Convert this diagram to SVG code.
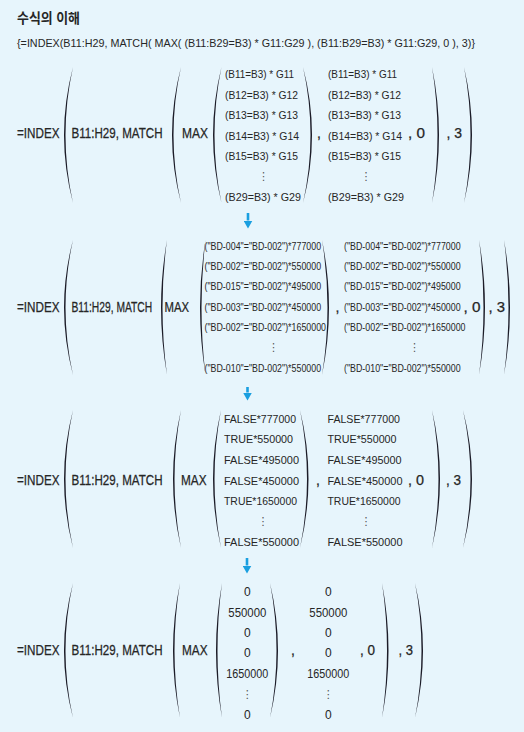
<svg xmlns="http://www.w3.org/2000/svg" width="524" height="732" viewBox="0 0 524 732">
<defs>
<style>
.bg{fill:#e7f5fc}
.t{font-family:"Liberation Sans",Arial,sans-serif;fill:#262626}
.k{font-family:"Liberation Sans","Noto Sans CJK KR",sans-serif;fill:#262626;font-weight:bold}
.L{font-size:14px;stroke:#262626;stroke-width:0.25}
.a1{font-size:11px}
.a2{font-size:10px}
.a3{font-size:11.5px}
.a4{font-size:12px}
.m{text-anchor:middle}
.d{font-family:"DejaVu Sans",sans-serif;font-size:11px;fill:#555;text-anchor:middle}
.p{fill:#1c1c28}
.ar{stroke:#1a9fe0;stroke-width:2.6;fill:none}
</style>
<marker id="ah" viewBox="0 0 8 9" refX="0" refY="4.5" markerWidth="8" markerHeight="9" markerUnits="userSpaceOnUse" orient="auto">
<path d="M0,0 L8,4.5 L0,9 Z" fill="#1a9fe0"/>
</marker>
</defs>
<rect class="bg" x="0" y="0" width="524" height="732"/>

<g id="title">
<text class="k" x="17" y="22.5" font-size="14" textLength="63" lengthAdjust="spacingAndGlyphs">수식의 이해</text>
<text class="t" x="17" y="46.5" font-size="11" textLength="458" lengthAdjust="spacingAndGlyphs">{=INDEX(B11:H29, MATCH( MAX( (B11:B29=B3) * G11:G29 ), (B11:B29=B3) * G11:G29, 0 ), 3)}</text>
</g>

<g id="step1">
<path class="p" d="M73,67 Q55,135 73,203 Q58,135 73,67 Z"/>
<path class="p" d="M181,67 Q163,135 181,203 Q166,135 181,67 Z"/>
<path class="p" d="M221.5,67 Q204.5,135 221.5,203 Q207.5,135 221.5,67 Z"/>
<path class="p" d="M303,67 Q321,135 303,203 Q318,135 303,67 Z"/>
<path class="p" d="M432,67 Q446,135 432,203 Q443,135 432,67 Z"/>
<path class="p" d="M464,67 Q480,135 464,203 Q477,135 464,67 Z"/>
<text class="t L" x="17" y="138" textLength="42.5" lengthAdjust="spacingAndGlyphs">=INDEX</text>
<text class="t L" transform="translate(71.5,138) scale(0.829,1)">B11:H29, MATCH</text>
<text class="t L" x="182" y="138" textLength="26" lengthAdjust="spacingAndGlyphs">MAX</text>
<text class="t a1" x="225" y="78" textLength="69" lengthAdjust="spacingAndGlyphs">(B11=B3) * G11</text>
<text class="t a1" x="225" y="98.5" textLength="73" lengthAdjust="spacingAndGlyphs">(B12=B3) * G12</text>
<text class="t a1" x="225" y="119" textLength="73" lengthAdjust="spacingAndGlyphs">(B13=B3) * G13</text>
<text class="t a1" x="225" y="139.5" textLength="74" lengthAdjust="spacingAndGlyphs">(B14=B3) * G14</text>
<text class="t a1" x="225" y="160" textLength="73" lengthAdjust="spacingAndGlyphs">(B15=B3) * G15</text>
<text class="d" x="263.5" y="180">⋮</text>
<text class="t a1" x="225" y="201" textLength="76" lengthAdjust="spacingAndGlyphs">(B29=B3) * G29</text>
<text class="t L" x="317" y="138">,</text>
<text class="t a1" x="328" y="78" textLength="69" lengthAdjust="spacingAndGlyphs">(B11=B3) * G11</text>
<text class="t a1" x="328" y="98.5" textLength="73" lengthAdjust="spacingAndGlyphs">(B12=B3) * G12</text>
<text class="t a1" x="328" y="119" textLength="73" lengthAdjust="spacingAndGlyphs">(B13=B3) * G13</text>
<text class="t a1" x="328" y="139.5" textLength="74" lengthAdjust="spacingAndGlyphs">(B14=B3) * G14</text>
<text class="t a1" x="328" y="160" textLength="73" lengthAdjust="spacingAndGlyphs">(B15=B3) * G15</text>
<text class="d" x="366" y="180">⋮</text>
<text class="t a1" x="328" y="201" textLength="76" lengthAdjust="spacingAndGlyphs">(B29=B3) * G29</text>
<text class="t L" x="408" y="138" textLength="17" lengthAdjust="spacingAndGlyphs">, 0</text>
<text class="t L" x="446.5" y="138" textLength="15.5" lengthAdjust="spacingAndGlyphs">, 3</text>
</g>

<g id="step2">
<path class="p" d="M73,240 Q55,307.5 73,375 Q58,307.5 73,240 Z"/>
<path class="p" d="M167,240 Q155,307.5 167,375 Q158,307.5 167,240 Z"/>
<path class="p" d="M205.5,240 Q194.5,307.5 205.5,375 Q197.5,307.5 205.5,240 Z"/>
<path class="p" d="M322,240 Q336,307.5 322,375 Q333,307.5 322,240 Z"/>
<path class="p" d="M479,240 Q491,307.5 479,375 Q488,307.5 479,240 Z"/>
<path class="p" d="M504,240 Q516,307.5 504,375 Q513,307.5 504,240 Z"/>
<text class="t L" x="17" y="312" textLength="42.5" lengthAdjust="spacingAndGlyphs">=INDEX</text>
<text class="t L" transform="translate(71.5,312) scale(0.735,1)">B11:H29, MATCH</text>
<text class="t L" transform="translate(164.5,312) scale(0.81,1)">MAX</text>
<g transform="translate(204.5,0) scale(0.885,1)">
<text class="t a2" x="0" y="250.5">("BD-004"="BD-002")*777000</text>
<text class="t a2" x="0" y="270.5">("BD-002"="BD-002")*550000</text>
<text class="t a2" x="0" y="290.5">("BD-015"="BD-002")*495000</text>
<text class="t a2" x="0" y="311">("BD-003"="BD-002")*450000</text>
<text class="t a2" x="0" y="331">("BD-002"="BD-002")*1650000</text>
<text class="t a2" x="0" y="372">("BD-010"="BD-002")*550000</text>
</g>
<text class="d" x="273.5" y="351">⋮</text>
<text class="t L" x="335.5" y="312">,</text>
<g transform="translate(344,0) scale(0.885,1)">
<text class="t a2" x="0" y="250.5">("BD-004"="BD-002")*777000</text>
<text class="t a2" x="0" y="270.5">("BD-002"="BD-002")*550000</text>
<text class="t a2" x="0" y="290.5">("BD-015"="BD-002")*495000</text>
<text class="t a2" x="0" y="311">("BD-003"="BD-002")*450000</text>
<text class="t a2" x="0" y="331">("BD-002"="BD-002")*1650000</text>
<text class="t a2" x="0" y="372">("BD-010"="BD-002")*550000</text>
</g>
<text class="d" x="414.5" y="351">⋮</text>
<text class="t L" x="463.5" y="312" textLength="17" lengthAdjust="spacingAndGlyphs">, 0</text>
<text class="t L" x="488.5" y="312" textLength="16.5" lengthAdjust="spacingAndGlyphs">, 3</text>
</g>

<g id="step3">
<path class="p" d="M73,410 Q55,479 73,548 Q58,479 73,410 Z"/>
<path class="p" d="M181,410 Q165,479 181,548 Q168,479 181,410 Z"/>
<path class="p" d="M221,410 Q205,479 221,548 Q208,479 221,410 Z"/>
<path class="p" d="M300,410 Q317,479 300,548 Q314,479 300,410 Z"/>
<path class="p" d="M432,410 Q448,479 432,548 Q445,479 432,410 Z"/>
<path class="p" d="M463,410 Q481,479 463,548 Q478,479 463,410 Z"/>
<text class="t L" x="17" y="485" textLength="42.5" lengthAdjust="spacingAndGlyphs">=INDEX</text>
<text class="t L" transform="translate(71.5,485) scale(0.829,1)">B11:H29, MATCH</text>
<text class="t L" x="181" y="485" textLength="25.5" lengthAdjust="spacingAndGlyphs">MAX</text>
<text class="t a3" x="224" y="422.5" textLength="72" lengthAdjust="spacingAndGlyphs">FALSE*777000</text>
<text class="t a3" x="224" y="443" textLength="69" lengthAdjust="spacingAndGlyphs">TRUE*550000</text>
<text class="t a3" x="224" y="464" textLength="75" lengthAdjust="spacingAndGlyphs">FALSE*495000</text>
<text class="t a3" x="224" y="484.5" textLength="75" lengthAdjust="spacingAndGlyphs">FALSE*450000</text>
<text class="t a3" x="224" y="505" textLength="73" lengthAdjust="spacingAndGlyphs">TRUE*1650000</text>
<text class="d" x="263" y="525">⋮</text>
<text class="t a3" x="224" y="545.5" textLength="75" lengthAdjust="spacingAndGlyphs">FALSE*550000</text>
<text class="t L" x="316" y="485">,</text>
<text class="t a3" x="327.5" y="422.5" textLength="72.5" lengthAdjust="spacingAndGlyphs">FALSE*777000</text>
<text class="t a3" x="327.5" y="443" textLength="69" lengthAdjust="spacingAndGlyphs">TRUE*550000</text>
<text class="t a3" x="327.5" y="464" textLength="74" lengthAdjust="spacingAndGlyphs">FALSE*495000</text>
<text class="t a3" x="327.5" y="484.5" textLength="75" lengthAdjust="spacingAndGlyphs">FALSE*450000</text>
<text class="t a3" x="327.5" y="505" textLength="73" lengthAdjust="spacingAndGlyphs">TRUE*1650000</text>
<text class="d" x="366" y="525">⋮</text>
<text class="t a3" x="327.5" y="545.5" textLength="75" lengthAdjust="spacingAndGlyphs">FALSE*550000</text>
<text class="t L" x="408" y="485" textLength="16" lengthAdjust="spacingAndGlyphs">, 0</text>
<text class="t L" x="446" y="485" textLength="15" lengthAdjust="spacingAndGlyphs">, 3</text>
</g>

<g id="step4">
<path class="p" d="M73,583 Q55,650.5 73,718 Q58,650.5 73,583 Z"/>
<path class="p" d="M180,583 Q166,650.5 180,718 Q169,650.5 180,583 Z"/>
<path class="p" d="M222,583 Q210,650.5 222,718 Q213,650.5 222,583 Z"/>
<path class="p" d="M270,583 Q286,650.5 270,718 Q283,650.5 270,583 Z"/>
<path class="p" d="M382,583 Q395,650.5 382,718 Q392,650.5 382,583 Z"/>
<path class="p" d="M415,583 Q431,650.5 415,718 Q428,650.5 415,583 Z"/>
<text class="t L" x="17" y="655" textLength="42.5" lengthAdjust="spacingAndGlyphs">=INDEX</text>
<text class="t L" transform="translate(71.5,655) scale(0.829,1)">B11:H29, MATCH</text>
<text class="t L" x="182" y="655" textLength="25.5" lengthAdjust="spacingAndGlyphs">MAX</text>
<text class="t a4 m" x="247.3" y="596">0</text>
<text class="t a4 m" x="247.3" y="616.5" textLength="38" lengthAdjust="spacingAndGlyphs">550000</text>
<text class="t a4 m" x="247.3" y="636.5">0</text>
<text class="t a4 m" x="247.3" y="657">0</text>
<text class="t a4 m" x="247.3" y="677.5" textLength="42" lengthAdjust="spacingAndGlyphs">1650000</text>
<text class="d" x="247.3" y="698">⋮</text>
<text class="t a4 m" x="247.3" y="718.5">0</text>
<text class="t L" x="291" y="655">,</text>
<text class="t a4 m" x="328.3" y="596">0</text>
<text class="t a4 m" x="328.3" y="616.5" textLength="38" lengthAdjust="spacingAndGlyphs">550000</text>
<text class="t a4 m" x="328.3" y="636.5">0</text>
<text class="t a4 m" x="328.3" y="657">0</text>
<text class="t a4 m" x="328.3" y="677.5" textLength="42" lengthAdjust="spacingAndGlyphs">1650000</text>
<text class="d" x="328.3" y="698">⋮</text>
<text class="t a4 m" x="328.3" y="718.5">0</text>
<text class="t L" x="360" y="655" textLength="15" lengthAdjust="spacingAndGlyphs">, 0</text>
<text class="t L" x="398.5" y="655" textLength="14.5" lengthAdjust="spacingAndGlyphs">, 3</text>
</g>

<g id="connectors">
<line class="ar" x1="248" y1="213" x2="248" y2="220.5" marker-end="url(#ah)"/>
<line class="ar" x1="247.5" y1="387" x2="247.5" y2="392.5" marker-end="url(#ah)"/>
<line class="ar" x1="247" y1="558" x2="247" y2="565.5" marker-end="url(#ah)"/>
</g>
</svg>
